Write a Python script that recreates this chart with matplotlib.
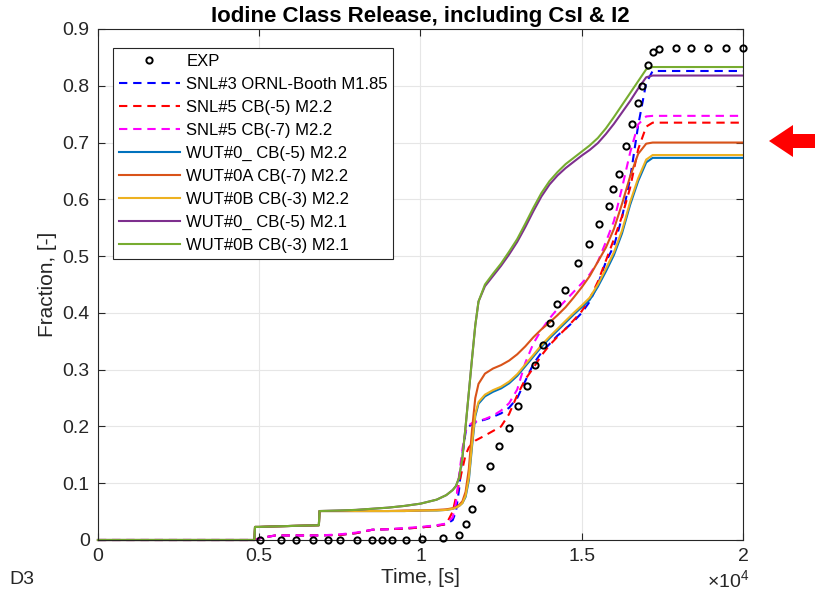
import matplotlib
matplotlib.use('Agg')
import matplotlib.pyplot as plt
from matplotlib.patches import FancyArrow

plt.rcParams['font.family'] = ['Liberation Sans', 'DejaVu Sans']
plt.rcParams['mathtext.default'] = 'regular'

# Experimental points
exp_t = [5023, 5665, 6140, 6657, 7122, 7504, 8022, 8505, 8797, 9107, 9541, 10037,
         10707, 11184, 11420, 11588, 11876, 12164, 12443, 12735, 13014, 13302,
         13541, 13808, 14006, 14242, 14471, 14893, 15215, 15544, 15835, 15978,
         16164, 16363, 16549, 16735, 16868, 17064, 17200, 17386, 17913, 18388,
         18906, 19464, 20000]
exp_y = [0, 0, 0, 0, 0, 0, 0, 0, 0, 0, 0, 0.001,
         0.003, 0.009, 0.028, 0.055, 0.092, 0.131, 0.165, 0.197, 0.236, 0.271,
         0.309, 0.343, 0.382, 0.416, 0.440, 0.487, 0.521, 0.556, 0.589, 0.618,
         0.645, 0.694, 0.733, 0.770, 0.799, 0.836, 0.859, 0.864, 0.866, 0.866,
         0.866, 0.866, 0.866]

# common time grid of the code results
t = [0, 4850, 4870, 5000, 5500, 6850, 6870, 7500, 8000, 8500,
     9000, 9500, 10000, 10500, 10800, 11000, 11100, 11200, 11300, 11400,
     11500, 11600, 11700, 11800, 12000, 12250, 12500, 12750, 13000, 13250,
     13500, 13750, 14000, 14250, 14500, 14750, 15000, 15250, 15500, 15750,
     16000, 16250, 16500, 16750, 17000, 17200, 20000]

snl3_booth = [0, 0, 0, 0.003, 0.008, 0.008, 0.008, 0.009, 0.012, 0.018,
              0.019, 0.020, 0.022, 0.025, 0.028, 0.035, 0.050, 0.090, 0.150, 0.190,
              0.200, 0.204, 0.207, 0.209, 0.212, 0.217, 0.223, 0.233, 0.250, 0.280,
              0.310, 0.330, 0.345, 0.360, 0.372, 0.385, 0.400, 0.420, 0.450, 0.490,
              0.518, 0.568, 0.636, 0.730, 0.805, 0.826, 0.826]
snl5_cb5 = [0, 0, 0, 0.003, 0.008, 0.008, 0.008, 0.009, 0.012, 0.018,
            0.019, 0.020, 0.022, 0.025, 0.028, 0.050, 0.075, 0.100, 0.125, 0.150,
            0.163, 0.170, 0.175, 0.178, 0.184, 0.192, 0.200, 0.222, 0.255, 0.283,
            0.303, 0.325, 0.343, 0.358, 0.372, 0.387, 0.403, 0.425, 0.455, 0.492,
            0.530, 0.570, 0.620, 0.688, 0.728, 0.735, 0.735]
snl5_cb7 = [0, 0, 0, 0.003, 0.008, 0.008, 0.008, 0.010, 0.013, 0.018,
            0.019, 0.021, 0.023, 0.026, 0.029, 0.040, 0.065, 0.115, 0.160, 0.192,
            0.202, 0.206, 0.208, 0.210, 0.213, 0.219, 0.228, 0.241, 0.265, 0.312,
            0.346, 0.370, 0.390, 0.407, 0.422, 0.437, 0.452, 0.468, 0.490, 0.525,
            0.562, 0.620, 0.682, 0.732, 0.746, 0.747, 0.747]
wut0_22 = [0, 0, 0.023, 0.023, 0.024, 0.026, 0.051, 0.051, 0.051, 0.051,
           0.051, 0.051, 0.052, 0.052, 0.053, 0.055, 0.057, 0.060, 0.065, 0.076,
           0.105, 0.165, 0.218, 0.240, 0.253, 0.261, 0.267, 0.276, 0.289, 0.306,
           0.323, 0.340, 0.355, 0.369, 0.383, 0.397, 0.410, 0.423, 0.446, 0.473,
           0.502, 0.540, 0.590, 0.632, 0.665, 0.673, 0.673]
wut0a_22 = [0, 0, 0.023, 0.023, 0.024, 0.026, 0.051, 0.051, 0.051, 0.051,
            0.051, 0.052, 0.052, 0.053, 0.054, 0.056, 0.058, 0.062, 0.068, 0.085,
            0.125, 0.195, 0.250, 0.275, 0.293, 0.302, 0.308, 0.316, 0.327, 0.341,
            0.357, 0.371, 0.383, 0.396, 0.410, 0.427, 0.445, 0.465, 0.490, 0.515,
            0.548, 0.592, 0.640, 0.680, 0.698, 0.700, 0.700]
wut0b_22 = [0, 0, 0.023, 0.023, 0.024, 0.026, 0.051, 0.051, 0.051, 0.051,
            0.051, 0.051, 0.052, 0.052, 0.053, 0.055, 0.057, 0.060, 0.065, 0.078,
            0.110, 0.170, 0.222, 0.243, 0.256, 0.264, 0.270, 0.279, 0.292, 0.309,
            0.326, 0.343, 0.358, 0.372, 0.386, 0.400, 0.413, 0.427, 0.450, 0.478,
            0.507, 0.545, 0.595, 0.637, 0.670, 0.678, 0.678]
wut0_21 = [0, 0, 0.023, 0.023, 0.024, 0.026, 0.051, 0.052, 0.053, 0.055,
           0.057, 0.060, 0.064, 0.071, 0.079, 0.088, 0.095, 0.110, 0.145, 0.200,
           0.260, 0.320, 0.378, 0.420, 0.447, 0.465, 0.483, 0.503, 0.525, 0.551,
           0.579, 0.605, 0.626, 0.642, 0.655, 0.666, 0.677, 0.687, 0.699, 0.715,
           0.733, 0.753, 0.773, 0.795, 0.815, 0.818, 0.818]
wut0b_21 = [0, 0, 0.023, 0.023, 0.024, 0.026, 0.051, 0.052, 0.053, 0.055,
            0.057, 0.060, 0.064, 0.071, 0.079, 0.088, 0.095, 0.110, 0.145, 0.200,
            0.260, 0.320, 0.378, 0.420, 0.450, 0.469, 0.487, 0.508, 0.530, 0.557,
            0.585, 0.611, 0.632, 0.648, 0.662, 0.673, 0.684, 0.695, 0.708, 0.725,
            0.745, 0.766, 0.787, 0.808, 0.829, 0.833, 0.833]

labels = ['EXP', 'SNL#3 ORNL-Booth M1.85', 'SNL#5 CB(-5) M2.2', 'SNL#5 CB(-7) M2.2',
          'WUT#0_ CB(-5) M2.2', 'WUT#0A CB(-7) M2.2', 'WUT#0B CB(-3) M2.2',
          'WUT#0_ CB(-5) M2.1', 'WUT#0B CB(-3) M2.1']

fig = plt.figure(figsize=(8.15, 6.0), dpi=100)
ax = fig.add_axes([0.1202, 0.1, 0.7914, 0.8517])

ax.plot(exp_t, exp_y, 'o', color='black', mfc='none', ms=4.5, mew=1.4,
        label=labels[0], clip_on=False, zorder=3)
dash = (4, 2.8)
ax.plot(t, snl3_booth, '--', color='#0000FF', lw=1.5, dashes=dash, label=labels[1], clip_on=False)
ax.plot(t, snl5_cb5, '--', color='#FF0000', lw=1.5, dashes=dash, label=labels[2], clip_on=False)
ax.plot(t, snl5_cb7, '--', color='#FF00FF', lw=1.5, dashes=dash, label=labels[3], clip_on=False)
ax.plot(t, wut0_22, color='#0072BD', lw=1.5, label=labels[4], clip_on=False)
ax.plot(t, wut0a_22, color='#D95319', lw=1.5, label=labels[5], clip_on=False)
ax.plot(t, wut0b_22, color='#EDB120', lw=1.5, label=labels[6], clip_on=False)
ax.plot(t, wut0_21, color='#7E2F8E', lw=1.5, label=labels[7], clip_on=False)
ax.plot(t, wut0b_21, color='#77AC30', lw=1.5, label=labels[8], clip_on=False)

ax.set_xlim(0, 20000)
ax.set_ylim(0, 0.9)
ax.set_xticks([0, 5000, 10000, 15000, 20000])
ax.set_xticklabels(['0', '0.5', '1', '1.5', '2'])
ax.set_yticks([i / 10 for i in range(10)])
ax.set_yticklabels(['0'] + ['%.1f' % (i / 10) for i in range(1, 10)])

dark = '#262626'
ax.grid(True, color='#e6e6e6', lw=0.8)
ax.set_axisbelow(True)
for s in ax.spines.values():
    s.set_color(dark)
    s.set_linewidth(0.8)
ax.tick_params(direction='in', top=True, right=True, length=5, width=0.8,
               colors=dark, labelsize=14, pad=6)

ax.set_title('Iodine Class Release, including CsI & I2', fontsize=16,
             fontweight='bold', color='black', pad=5)
ax.set_xlabel('Time, [s]', fontsize=15, color=dark, labelpad=2)
ax.set_ylabel('Fraction, [-]', fontsize=15, color=dark, labelpad=4)

fig.text(728 / 815, 1 - 580 / 600, r'$\times10^{4}$', fontsize=14, color=dark,
         ha='center', va='center')
fig.text(22 / 815, 1 - 580 / 600, 'D3', fontsize=14, color=dark,
         ha='center', va='center')

leg = ax.legend(loc='upper left', bbox_to_anchor=(0.023, 0.963), borderaxespad=0,
                fontsize=12, frameon=True, fancybox=False, handlelength=3.7,
                handletextpad=0.35, labelspacing=0.48, borderpad=0.35)
leg.get_frame().set_edgecolor(dark)
leg.get_frame().set_linewidth(0.8)
leg.get_frame().set_alpha(1)

# red arrow pointing at the curves from the right
arrow = FancyArrow(1.0, 1 - 141 / 600, -46 / 815, 0, width=14 / 600,
                   head_width=32 / 600, head_length=24 / 815,
                   length_includes_head=True, color='#FF0000', lw=0,
                   transform=fig.transFigure)
fig.patches.append(arrow)

fig.savefig('out.png', dpi=100)
